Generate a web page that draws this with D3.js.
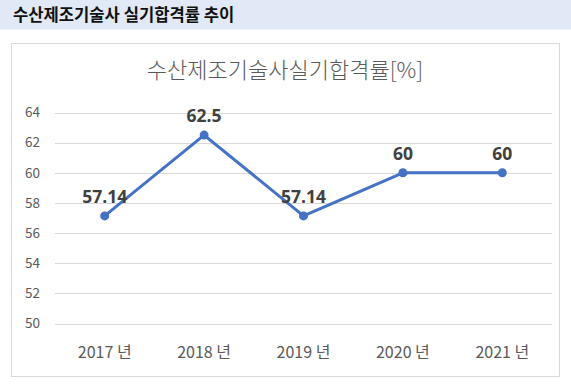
<!DOCTYPE html>
<html><head><meta charset="utf-8">
<script src="https://cdn.jsdelivr.net/npm/d3@7"></script>
<style>html,body{margin:0;padding:0;background:#fff;}svg{display:block;}</style>
</head><body>
<script>
const categories = ["2017 년","2018 년","2019 년","2020 년","2021 년"];
const values = [57.14, 62.5, 57.14, 60, 60];
const valueLabels = ["57.14","62.5","57.14","60","60"];
const yTicks = [50,52,54,56,58,60,62,64];
const pageTitle = "수산제조기술사 실기합격률 추이";
const chartTitle = "수산제조기술사실기합격률[%]";

const W = 571, H = 390;
const svg = d3.select("body").append("svg").attr("width", W).attr("height", H);
const font = "'Noto Sans CJK KR','Noto Sans',sans-serif";

svg.append("rect").attr("x",0).attr("y",0).attr("width",W).attr("height",29.5).attr("fill","#e2e9f6");
svg.append("text").attr("x",13).attr("y",21).attr("font-family",font).attr("font-weight","bold")
  .attr("font-size",16.6).attr("fill","#111").text(pageTitle);

svg.append("rect").attr("x",11.5).attr("y",43.5).attr("width",548).attr("height",333)
  .attr("fill","#fff").attr("stroke","#d9d9d9").attr("stroke-width",1);

svg.append("text").attr("x",285).attr("y",78).attr("text-anchor","middle").attr("font-family",font)
  .attr("font-size",22).attr("font-weight",300).attr("fill","#595959").text(chartTitle);

const x = d3.scaleBand().domain(categories).range([55,552]);
const y = d3.scaleLinear().domain([50,64]).range([323.5,112.5]);

const g = svg.append("g");
g.selectAll("line.grid").data(yTicks).join("line").attr("class","grid")
  .attr("x1",55).attr("x2",552).attr("y1",d=>Math.round(y(d))+0.5).attr("y2",d=>Math.round(y(d))+0.5)
  .attr("stroke","#d9d9d9").attr("stroke-width",1);

const yAxis = d3.axisLeft(y).tickValues(yTicks).tickSize(0).tickPadding(0);
const ya = svg.append("g").attr("transform","translate(40,0)").call(yAxis);
ya.select(".domain").remove();
ya.selectAll("text").attr("font-family",font).attr("font-size",13.5).attr("fill","#595959");

const xAxis = d3.axisBottom(x).tickSize(0).tickPadding(0);
const xa = svg.append("g").attr("transform","translate(0,347)").call(xAxis);
xa.select(".domain").remove();
xa.selectAll("text").attr("font-family",font).attr("font-size",16).attr("fill","#595959");

const cx = d => x(d) + x.bandwidth()/2;
const line = d3.line().x((d,i)=>cx(categories[i])).y(d=>y(d));
svg.append("path").datum(values).attr("d",line).attr("fill","none")
  .attr("stroke","#4472c4").attr("stroke-width",3).attr("stroke-linejoin","round");
svg.selectAll("circle.pt").data(values).join("circle").attr("class","pt")
  .attr("cx",(d,i)=>cx(categories[i])).attr("cy",d=>y(d)).attr("r",4.5).attr("fill","#4472c4");
svg.selectAll("text.lbl").data(values).join("text").attr("class","lbl")
  .attr("x",(d,i)=>cx(categories[i])).attr("y",d=>y(d)-13).attr("text-anchor","middle")
  .attr("font-family","'Open Sans','Noto Sans',sans-serif").attr("font-weight","bold").attr("font-size",17.5)
  .attr("fill","#404040").text((d,i)=>valueLabels[i]);
</script>
</body></html>
